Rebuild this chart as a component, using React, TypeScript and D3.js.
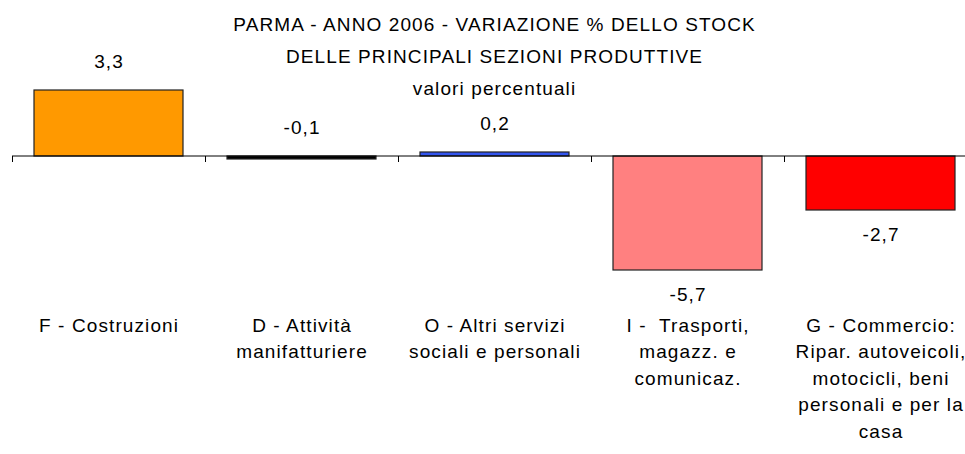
import React from "react";
import * as d3 from "d3";

const categories = [
  "F - Costruzioni",
  "D - Attività\nmanifatturiere",
  "O - Altri servizi\nsociali e personali",
  "I -  Trasporti,\nmagazz. e\ncomunicaz.",
  "G - Commercio:\nRipar. autoveicoli,\nmotocicli, beni\npersonali e per la\ncasa",
];
const values = [3.3, -0.1, 0.2, -5.7, -2.7];
const valueLabels = ["3,3", "-0,1", "0,2", "-5,7", "-2,7"];
const colors = ["#FF9900", "#000000", "#3355EE", "#FF8080", "#FF0000"];
const titleLines = [
  "PARMA - ANNO 2006 - VARIAZIONE % DELLO STOCK",
  "DELLE PRINCIPALI SEZIONI PRODUTTIVE",
  "valori percentuali",
];

const W = 965;
const H = 454;
const FONT = "'Liberation Sans', Arial, sans-serif";
const FS = 19;
const LS = 1.1;

export default function App() {
  const x = d3.scaleBand<string>().domain(categories).range([12, 977]).padding(0);
  const y = d3.scaleLinear().domain([-6, 4]).range([276, 76]);
  const bw = x.bandwidth();
  const inset = bw * 0.114;
  const y0 = y(0);

  return (
    <svg
      width={W}
      height={H}
      style={{ position: "absolute", left: 0, top: 0, background: "#fff" }}
      fontFamily={FONT}
    >
      {/* title */}
      {titleLines.map((t, i) => (
        <text
          key={i}
          x={494 + LS / 2}
          y={24 + i * 32}
          textAnchor="middle"
          dominantBaseline="central"
          fontSize={FS}
          letterSpacing={LS}
          fill="#000"
        >
          {t}
        </text>
      ))}

      {/* bars */}
      {categories.map((c, i) => {
        const v = values[i];
        const top = y(Math.max(0, v));
        const bot = y(Math.min(0, v));
        const h = Math.max(bot - top, 3);
        return (
          <rect
            key={c}
            x={(x(c) as number) + inset}
            y={v >= 0 ? bot - h : top}
            width={bw - 2 * inset}
            height={h}
            fill={colors[i]}
            stroke="#222"
            strokeWidth={1.2}
          />
        );
      })}

      {/* axis */}
      <line x1={12} x2={W} y1={y0} y2={y0} stroke="#000" strokeWidth={1} />
      {categories.map((c) => (
        <line
          key={"t" + c}
          x1={(x(c) as number) + 0.5}
          x2={(x(c) as number) + 0.5}
          y1={y0}
          y2={y0 + 6}
          stroke="#000"
          strokeWidth={1}
        />
      ))}

      {/* value labels */}
      {categories.map((c, i) => {
        const v = values[i];
        const cx = (x(c) as number) + bw / 2;
        const ly = v < -1 ? y(v) + 24 : y(Math.max(v, 0)) - 29;
        return (
          <text
            key={"v" + c}
            x={cx + LS / 2}
            y={ly}
            textAnchor="middle"
            dominantBaseline="central"
            fontSize={FS}
            letterSpacing={LS}
            fill="#000"
          >
            {valueLabels[i]}
          </text>
        );
      })}

      {/* category labels */}
      {categories.map((c) => {
        const cx = (x(c) as number) + bw / 2;
        return c.split("\n").map((line, j) => (
          <text
            key={"c" + c + j}
            x={cx + LS / 2}
            y={325 + j * 26.5}
            textAnchor="middle"
            dominantBaseline="central"
            fontSize={FS}
            letterSpacing={LS}
            fill="#000"
            style={{ whiteSpace: "pre" }}
          >
            {line}
          </text>
        ));
      })}
    </svg>
  );
}
